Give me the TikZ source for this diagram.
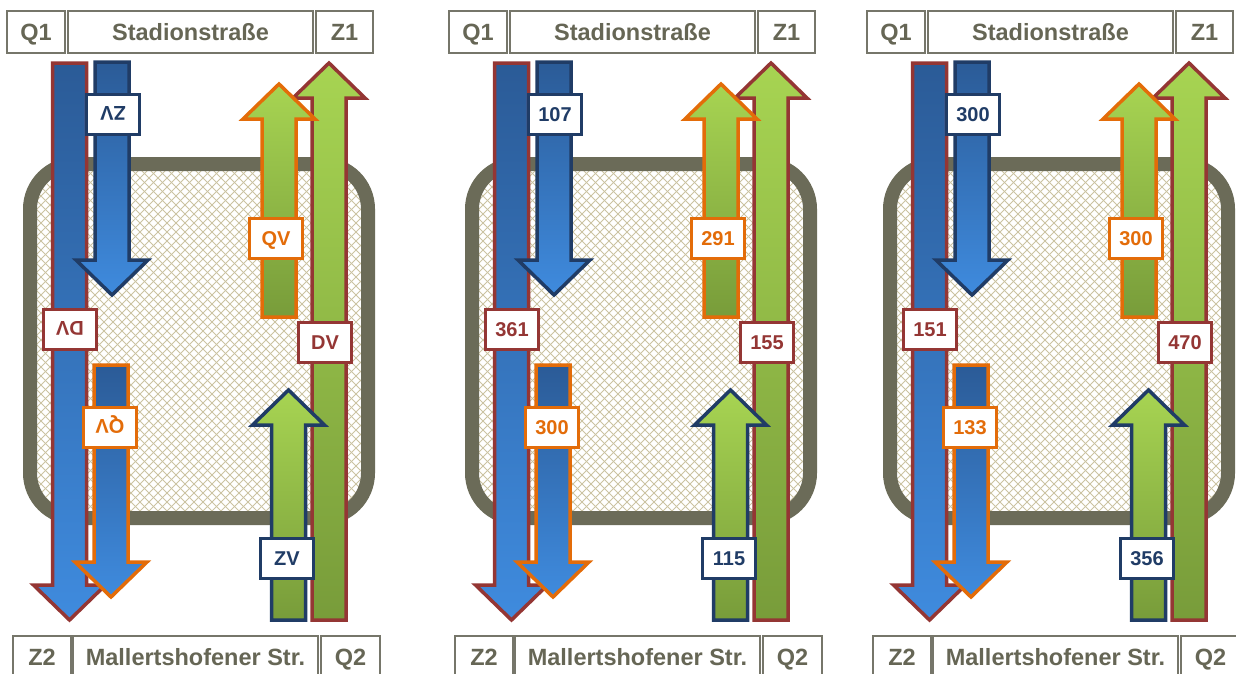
\documentclass[tikz,border=0pt]{standalone}
\usepackage{fontspec}
\setmainfont{Liberation Sans}
\definecolor{streetc}{HTML}{76766A}
\definecolor{streettext}{HTML}{666655}
\definecolor{framec}{HTML}{6B6B58}
\definecolor{hatchc}{HTML}{CBC3A2}
\definecolor{dred}{HTML}{943634}
\definecolor{dblue}{HTML}{203C66}
\definecolor{orng}{HTML}{E36C09}
\definecolor{bluetop}{HTML}{2B5B97}
\definecolor{bluebot}{HTML}{3F8BDE}
\definecolor{greentop}{HTML}{A7D452}
\definecolor{greenbot}{HTML}{789C3A}
\tikzset{
 street/.style={draw=streetc, line width=2.5pt, fill=white, text=streettext,
   font=\bfseries\fontsize{23.5}{23.5}\selectfont, inner sep=0pt, minimum height=42pt,
   text height=16.8pt, text depth=0pt},
 lab/.style={fill=white, line width=3pt, font=\bfseries\fontsize{20}{20}\selectfont,
   minimum width=53pt, minimum height=40pt, inner sep=0pt, text height=14.3pt, text depth=0pt},
 arr/.style={line width=3.5pt, line join=miter},
 bluef/.style={top color=bluetop, bottom color=bluebot},
 greenf/.style={top color=greentop, bottom color=greenbot},
 framestyle/.style={draw=framec, line width=14pt, rounded corners=45pt},
 hatchline/.style={draw=hatchc, line width=1pt},
}
% down arrow: #1 border, #2 cx, #3 top, #4 tip, #5 fill style
\newcommand\ArrDown[5]{%
 \path[arr,#5,draw=#1] ({#2-17},#3) -- ({#2+17},#3) -- ({#2+17},{#4-35}) -- ({#2+36},{#4-35})
   -- (#2,#4) -- ({#2-36},{#4-35}) -- ({#2-17},{#4-35}) -- cycle;}
% up arrow: #1 border, #2 cx, #3 bottom, #4 tip, #5 fill style
\newcommand\ArrUp[5]{%
 \path[arr,#5,draw=#1] ({#2-17},#3) -- ({#2+17},#3) -- ({#2+17},{#4+35}) -- ({#2+36},{#4+35})
   -- (#2,#4) -- ({#2-36},{#4+35}) -- ({#2-17},{#4+35}) -- cycle;}
% panel: #1 offset, #2 prefix, #3 ZV top, #4 DV left, #5 QV bottom, #6 QV top, #7 DV right, #8 ZV bottom, #9 rotation of left labels
\newcommand\Panel[9]{%
\begin{scope}[xshift=#1pt]
 % streets
 \node[street, minimum width=58pt] (#2q1) at (36,32) {Q1};
 \node[street, minimum width=245pt] (#2stad) at (190.5,32) {Stadionstraße};
 \node[street, minimum width=57pt] (#2z1) at (344.5,32) {Z1};
 \node[street, minimum width=58pt] (#2z2) at (42,657) {Z2};
 \node[street, minimum width=245pt] (#2mall) at (195.5,657) {Mallertshofener Str.};
 \node[street, minimum width=59pt] (#2q2) at (350.5,657) {Q2};
 % junction area
 \begin{scope}
  \clip[rounded corners=45pt] (30,164) rectangle (368,518);
  \foreach \c in {-360,-351,...,370} {\draw[hatchline] (\c,164) -- ++(354,354);}
  \foreach \c in {28,37,...,730} {\draw[hatchline] (\c,164) -- ++(-354,354);}
 \end{scope}
 \draw[framestyle] (30,164) rectangle (368,518);
 % arrows
 \ArrDown{dred}{69.5}{63}{620}{bluef}
 \ArrDown{dblue}{112}{62}{295}{bluef}
 \ArrDown{orng}{111}{365}{597}{bluef}
 \ArrUp{dred}{329}{620}{63}{greenf}
 \ArrUp{orng}{279}{317}{84}{greenf}
 \ArrUp{dblue}{288.5}{620}{390}{greenf}
 % labels
 \node[lab, draw=dblue, text=dblue, rotate=#9] (#2zva) at (113,114) {#3};
 \node[lab, draw=dred, text=dred, rotate=#9] (#2dva) at (70,329) {#4};
 \node[lab, draw=orng, text=orng, rotate=#9] (#2qva) at (110,427) {#5};
 \node[lab, draw=orng, text=orng] (#2qvb) at (276,238) {#6};
 \node[lab, draw=dred, text=dred] (#2dvb) at (325,342) {#7};
 \node[lab, draw=dblue, text=dblue] (#2zvb) at (287,558) {#8};
\end{scope}}
\begin{document}
\begin{tikzpicture}[x=1pt,y=-1pt]
\useasboundingbox (0,0) rectangle (1236,673);
\Panel{0}{a}{ZV}{DV}{QV}{QV}{DV}{ZV}{180}
\Panel{442}{b}{107}{361}{300}{291}{155}{115}{0}
\Panel{860}{c}{300}{151}{133}{300}{470}{356}{0}
\end{tikzpicture}
\end{document}
